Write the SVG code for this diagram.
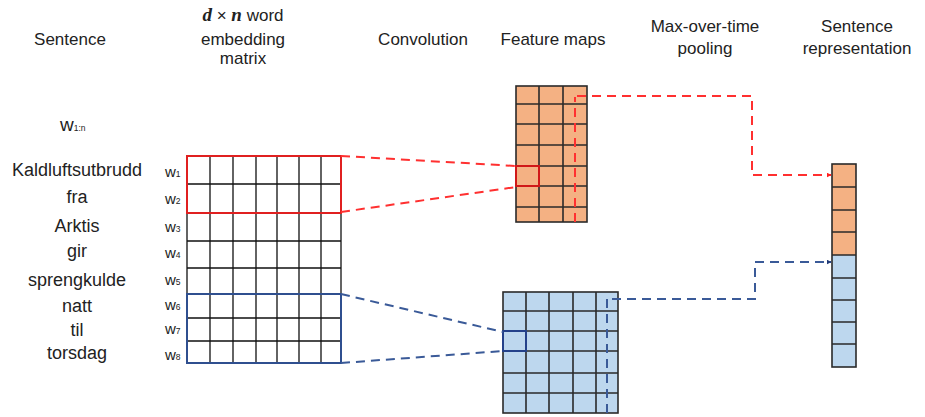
<svg xmlns="http://www.w3.org/2000/svg" width="925" height="417" viewBox="0 0 925 417">
<style>
text{font-family:"Liberation Sans",Arial,sans-serif;fill:#222;}
.h{font-size:17px;text-anchor:middle;}
.w{font-size:18px;text-anchor:middle;}
.lbl{font-size:15px;}
.sub{font-size:8.5px;}
.grid{stroke:#111;stroke-width:1.3;fill:none;}
.fm{stroke:#2a2a2a;stroke-width:1.6;}
.or{fill:#F4B183;}
.bl{fill:#BDD7EE;}
.rd{stroke:#FF3030;stroke-width:2;fill:none;stroke-dasharray:9 6;}
.bd{stroke:#3A5A98;stroke-width:2;fill:none;stroke-dasharray:9 6;}
</style>
<defs>
<marker id="ar" viewBox="0 0 10 10" refX="9" refY="5" markerWidth="5" markerHeight="5" orient="auto" markerUnits="userSpaceOnUse"><path d="M0,0 L10,5 L0,10 z" fill="#FF2020"/></marker>
<marker id="ab" viewBox="0 0 10 10" refX="9" refY="5" markerWidth="5" markerHeight="5" orient="auto" markerUnits="userSpaceOnUse"><path d="M0,0 L10,5 L0,10 z" fill="#1F3A78"/></marker>
</defs>
<rect width="925" height="417" fill="#fff"/>
<g id="headers">
<text class="h" x="70" y="45">Sentence</text>
<text class="h" x="243" y="21"><tspan font-family="'Liberation Serif',serif" font-weight="bold" font-style="italic" font-size="19">d</tspan> × <tspan font-family="'Liberation Serif',serif" font-weight="bold" font-style="italic" font-size="19">n</tspan> word</text>
<text class="h" x="243" y="45">embedding</text>
<text class="h" x="243" y="64">matrix</text>
<text class="h" x="423" y="45">Convolution</text>
<text class="h" x="553" y="45">Feature maps</text>
<text class="h" x="705" y="32">Max-over-time</text>
<text class="h" x="705" y="54">pooling</text>
<text class="h" x="857" y="32">Sentence</text>
<text class="h" x="857" y="54">representation</text>
</g>
<g id="sentence">
<text x="60" y="131" font-size="19">w<tspan class="sub">1:n</tspan></text>
<text class="w" x="77" y="176">Kaldluftsutbrudd</text>
<text class="w" x="77" y="203">fra</text>
<text class="w" x="77" y="232">Arktis</text>
<text class="w" x="77" y="257">gir</text>
<text class="w" x="77" y="286">sprengkulde</text>
<text class="w" x="77" y="312">natt</text>
<text class="w" x="77" y="336">til</text>
<text class="w" x="77" y="359">torsdag</text>
</g>
<g id="row-labels">
<text class="lbl" x="165" y="177">w<tspan class="sub">1</tspan></text>
<text class="lbl" x="165" y="204">w<tspan class="sub">2</tspan></text>
<text class="lbl" x="165" y="232">w<tspan class="sub">3</tspan></text>
<text class="lbl" x="165" y="258">w<tspan class="sub">4</tspan></text>
<text class="lbl" x="165" y="285">w<tspan class="sub">5</tspan></text>
<text class="lbl" x="165" y="310">w<tspan class="sub">6</tspan></text>
<text class="lbl" x="165" y="334">w<tspan class="sub">7</tspan></text>
<text class="lbl" x="165" y="360">w<tspan class="sub">8</tspan></text>
</g>
<g id="matrix">
<rect class="grid" x="187" y="156" width="154" height="207"/>
<path class="grid" d="M210,156V363M233,156V363M256,156V363M277,156V363M299,156V363M321,156V363M187,184H341M187,213H341M187,241H341M187,268H341M187,294H341M187,318H341M187,341H341"/>
<rect x="187" y="156" width="154" height="57" fill="none" stroke="#E02020" stroke-width="2"/>
<rect x="187" y="294" width="154" height="69" fill="none" stroke="#2F4F8F" stroke-width="2"/>
</g>
<g id="feature-map-red">
<rect class="or fm" x="516" y="86" width="71" height="136"/>
<path class="fm" fill="none" d="M539,86V222M563,86V222M516,104H587M516,124H587M516,145H587M516,166H587M516,186H587M516,207H587"/>
<rect x="516" y="166" width="23" height="20" fill="none" stroke="#D01818" stroke-width="2"/>
</g>
<g id="feature-map-blue">
<rect class="bl fm" x="503" y="292" width="115" height="121"/>
<path class="fm" fill="none" d="M526,292V413M549,292V413M573,292V413M596,292V413M503,311H618M503,331H618M503,351H618M503,373H618M503,393H618"/>
<rect x="503" y="331" width="23" height="20" fill="none" stroke="#24418A" stroke-width="2"/>
</g>
<g id="sentence-representation">
<rect class="or" x="832" y="164" width="24" height="91"/>
<rect class="bl" x="832" y="255" width="24" height="112"/>
<rect class="fm" fill="none" x="832" y="164" width="24" height="203"/>
<path class="fm" fill="none" d="M832,187H856M832,210H856M832,232H856M832,255H856M832,278H856M832,300H856M832,322H856M832,344H856"/>
</g>
<g id="connectors">
<path class="rd" d="M341,156L516,166"/>
<path class="rd" d="M341,212L516,187"/>
<path class="bd" d="M341,294L503,332"/>
<path class="bd" d="M341,363L503,351"/>
<path class="rd" d="M575,222V97"/>
<path class="rd" d="M577,96H752V175H831" marker-end="url(#ar)"/>
<path class="bd" d="M607,413V297"/>
<path class="bd" d="M612,299H755V262H831" marker-end="url(#ab)"/>
</g>
</svg>
